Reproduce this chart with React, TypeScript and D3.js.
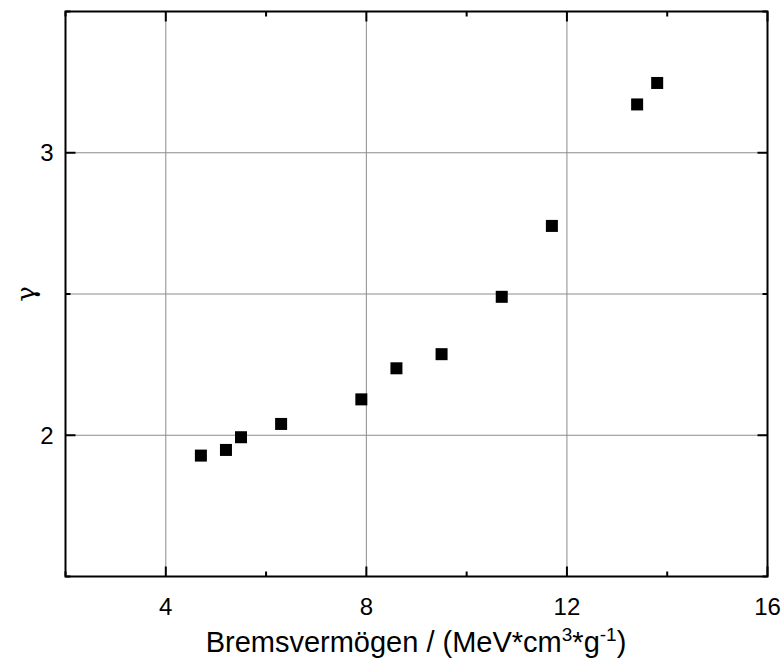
import React from "react";
import * as d3 from "d3";

const xValues = [4.7, 5.2, 5.5, 6.3, 7.9, 8.6, 9.5, 10.7, 11.7, 13.4, 13.8];
const yValues = [1.928, 1.948, 1.993, 2.04, 2.127, 2.237, 2.287, 2.49, 2.741, 3.171, 3.247];
const xMajorTicks = [4, 8, 12, 16];
const xMinorTicks = [2, 6, 10, 14];
const yMajorTicks = [2, 3];
const yMinorTicks = [1.5, 2.5, 3.5];
const xGrid = [4, 8, 12];
const yGrid = [2, 2.5, 3];

const W = 783;
const H = 663;
const L = 65.5, R = 767.5, T = 11.5, B = 576.5;

export default function App() {
  const x = d3.scaleLinear().domain([2, 16]).range([L, R]);
  const y = d3.scaleLinear().domain([1.5, 3.5]).range([B, T]);
  const font = "'Liberation Sans', Arial, sans-serif";
  const maj = 10, min = 5;
  const sq = 12;
  return (
    <svg width={W} height={H} style={{ position: "absolute", left: 0, top: 0, background: "#fff" }}>
      <rect x={0} y={0} width={W} height={H} fill="#fff" />
      {xGrid.map((v) => (
        <line key={"gx" + v} x1={x(v)} x2={x(v)} y1={T} y2={B} stroke="#8c8c8c" strokeWidth={1} />
      ))}
      {yGrid.map((v) => (
        <line key={"gy" + v} x1={L} x2={R} y1={y(v)} y2={y(v)} stroke="#8c8c8c" strokeWidth={1} />
      ))}
      {xMajorTicks.map((v) => (
        <g key={"xt" + v}>
          <line x1={x(v)} x2={x(v)} y1={B} y2={B - maj} stroke="#000" strokeWidth={2} />
          <line x1={x(v)} x2={x(v)} y1={T} y2={T + maj} stroke="#000" strokeWidth={2} />
          <text x={x(v)} y={B + 38} textAnchor="middle" fontFamily={font} fontSize={24} fill="#000">{v}</text>
        </g>
      ))}
      {xMinorTicks.map((v) => (
        <g key={"xm" + v}>
          <line x1={x(v)} x2={x(v)} y1={B} y2={B - min} stroke="#000" strokeWidth={2} />
          <line x1={x(v)} x2={x(v)} y1={T} y2={T + min} stroke="#000" strokeWidth={2} />
        </g>
      ))}
      {yMajorTicks.map((v) => (
        <g key={"yt" + v}>
          <line x1={L} x2={L + maj} y1={y(v)} y2={y(v)} stroke="#000" strokeWidth={2} />
          <line x1={R} x2={R - maj} y1={y(v)} y2={y(v)} stroke="#000" strokeWidth={2} />
          <text x={L - 12} y={y(v)} dy="0.35em" textAnchor="end" fontFamily={font} fontSize={24} fill="#000">{v}</text>
        </g>
      ))}
      {yMinorTicks.map((v) => (
        <g key={"ym" + v}>
          <line x1={L} x2={L + min} y1={y(v)} y2={y(v)} stroke="#000" strokeWidth={2} />
          <line x1={R} x2={R - min} y1={y(v)} y2={y(v)} stroke="#000" strokeWidth={2} />
        </g>
      ))}
      <rect x={L} y={T} width={R - L} height={B - T} fill="none" stroke="#000" strokeWidth={2} />
      {xValues.map((v, i) => (
        <rect key={"p" + i} x={x(v) - sq / 2} y={y(yValues[i]) - sq / 2} width={sq} height={sq} fill="#000" />
      ))}
      <text x={416} y={652} textAnchor="middle" fontFamily={font} fontSize={29} fill="#000">
        Bremsvermögen / (MeV*cm<tspan dy={-11} fontSize={19}>3</tspan><tspan dy={11}>*g</tspan><tspan dy={-11} fontSize={19}>-1</tspan><tspan dy={11}>)</tspan>
      </text>
      <text transform={`translate(35,${y(2.5)}) rotate(-90)`} textAnchor="middle" fontFamily="'DejaVu Serif', 'Liberation Serif', serif" fontSize={26} fill="#000">γ</text>
    </svg>
  );
}
